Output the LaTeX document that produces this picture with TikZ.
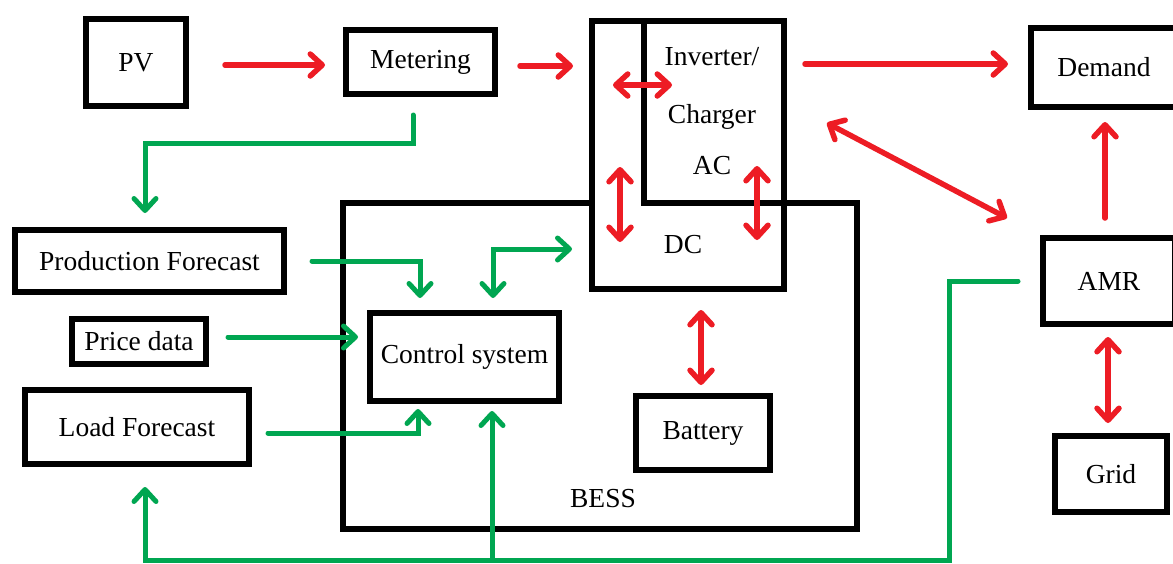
\documentclass[tikz,border=0pt]{standalone}
\usepackage{fontspec}
\setmainfont{Liberation Serif}
\usetikzlibrary{arrows.meta,calc}
\definecolor{ared}{HTML}{ED1C24}
\definecolor{agreen}{HTML}{00A651}
\tikzset{
  box/.style={draw=black, line width=6pt, fill=white, inner sep=0pt, font=\rmfamily\fontsize{27.5}{30}\selectfont},
  lbl/.style={inner sep=0pt, font=\rmfamily\fontsize{27.5}{30}\selectfont},
  redarr/.style={draw=ared, line width=5.5pt, line cap=round, -{Straight Barb[round,length=12pt,width=22pt]}},
  redbi/.style={draw=ared, line width=5.5pt, line cap=round, {Straight Barb[round,length=12pt,width=22pt]}-{Straight Barb[round,length=12pt,width=22pt]}},
  grnarr/.style={draw=agreen, line width=5pt, line cap=round, -{Straight Barb[round,length=12pt,width=22pt]}},
  grnbi/.style={draw=agreen, line width=5pt, line cap=round, {Straight Barb[round,length=12pt,width=22pt]}-{Straight Barb[round,length=12pt,width=22pt]}},
}
\begin{document}
\begin{tikzpicture}[x=1pt,y=-1pt]
\useasboundingbox (0,0) rectangle (1173,563);
% BESS
\node[box, minimum width=514, minimum height=326] (bess) at (600,366) {};
\node[lbl] (besslbl) at (603,499) {BESS};
% Inverter
\node[box, minimum width=192, minimum height=268] (inv) at (688,155) {};
\coordinate (ia) at (643.5,21);
\coordinate (ib) at (643.5,203);
\coordinate (ic) at (784,203);
\draw[line width=6pt] (ia) -- (ib) -- (ic);
\node[lbl] (tinv) at (712,57) {Inverter/};
\node[lbl] (tchg) at (712,117) {Charger};
\node[lbl] (tac) at (712,166) {AC};
\node[lbl] (tdc) at (683,245) {DC};
% boxes
\node[box, minimum width=100, minimum height=87] (pv) at (136,62.5) {PV};
\node[box, minimum width=149, minimum height=64] (meter) at (420.5,62) {Metering};
\node[box, minimum width=146, minimum height=79] (demand) at (1104,67.5) {Demand};
\node[box, minimum width=269, minimum height=62] (prod) at (149.5,261) {Production Forecast};
\node[box, minimum width=134, minimum height=45] (price) at (139,341.5) {Price data};
\node[box, minimum width=224, minimum height=74] (load) at (137,427) {Load Forecast};
\node[box, minimum width=189, minimum height=88] (ctrl) at (464.5,357) {Control system};
\node[box, minimum width=134, minimum height=74] (batt) at (703,433) {Battery};
\node[box, minimum width=132, minimum height=86] (amr) at (1109,281) {AMR};
\node[box, minimum width=112, minimum height=76] (grid) at (1111,474) {Grid};
% red arrows
\draw[redarr, shorten <=36pt, shorten >=18pt] (pv.east |- 0,65) -- (meter.west |- 0,65);
\draw[redarr, shorten <=22pt, shorten >=16pt] (meter.east |- 0,66) -- (inv.west |- 0,66);
\draw[redarr, shorten <=18pt, shorten >=20pt] (inv.east |- 0,64) -- (demand.west |- 0,64);
\coordinate (h1) at (613,85);
\coordinate (h2) at (672,85);
\draw[redbi] (h1) -- (h2);
\coordinate (l1) at (620,167);
\coordinate (l2) at (620,242);
\draw[redbi] (l1) -- (l2);
\coordinate (r1) at (757,166);
\coordinate (r2) at (757,240);
\draw[redbi] (r1) -- (r2);
\coordinate (d1) at (827,123);
\coordinate (d2) at (1007,218);
\draw[redbi] (d1) -- (d2);
\draw[redbi, shorten <=18pt, shorten >=8pt] (inv.south -| 701,0) -- (batt.north -| 701,0);
\draw[redarr, shorten <=17pt, shorten >=12pt] (amr.north -| 1105,0) -- (demand.south -| 1105,0);
\draw[redbi, shorten <=10pt, shorten >=10pt] (amr.south -| 1108,0) -- (grid.north -| 1108,0);
% green arrows
\coordinate (m0) at (413,115);
\coordinate (m1) at (413,143);
\draw[grnarr, shorten >=14pt] (m0) -- (m1) -| (prod.north -| 145,0);
\draw[grnarr, shorten <=25pt, shorten >=12pt] (prod.east |- 0,261) -| (ctrl.north -| 420,0);
\coordinate (c1) at (493,249);
\coordinate (c2) at (572,249);
\draw[grnbi, shorten <=12pt] (ctrl.north -| c1) -- (c1) -- (c2);
\draw[grnarr, shorten <=19pt, shorten >=9pt] (price.east |- 0,337) -- (ctrl.west |- 0,337);
\draw[grnarr, shorten <=16pt, shorten >=5pt] (load.east |- 0,433) -| (ctrl.south -| 418,0);
\coordinate (a0) at (1018,281);
\coordinate (a1) at (949,281);
\coordinate (a2) at (949,560);
\coordinate (a3) at (145,560);
\draw[grnarr, shorten >=20pt] (a0) -- (a1) -- (a2) -- (a3) -- (load.south -| a3);
\coordinate (a4) at (492,560);
\draw[grnarr, shorten >=7pt] (a4) -- (ctrl.south -| a4);
\end{tikzpicture}
\end{document}
